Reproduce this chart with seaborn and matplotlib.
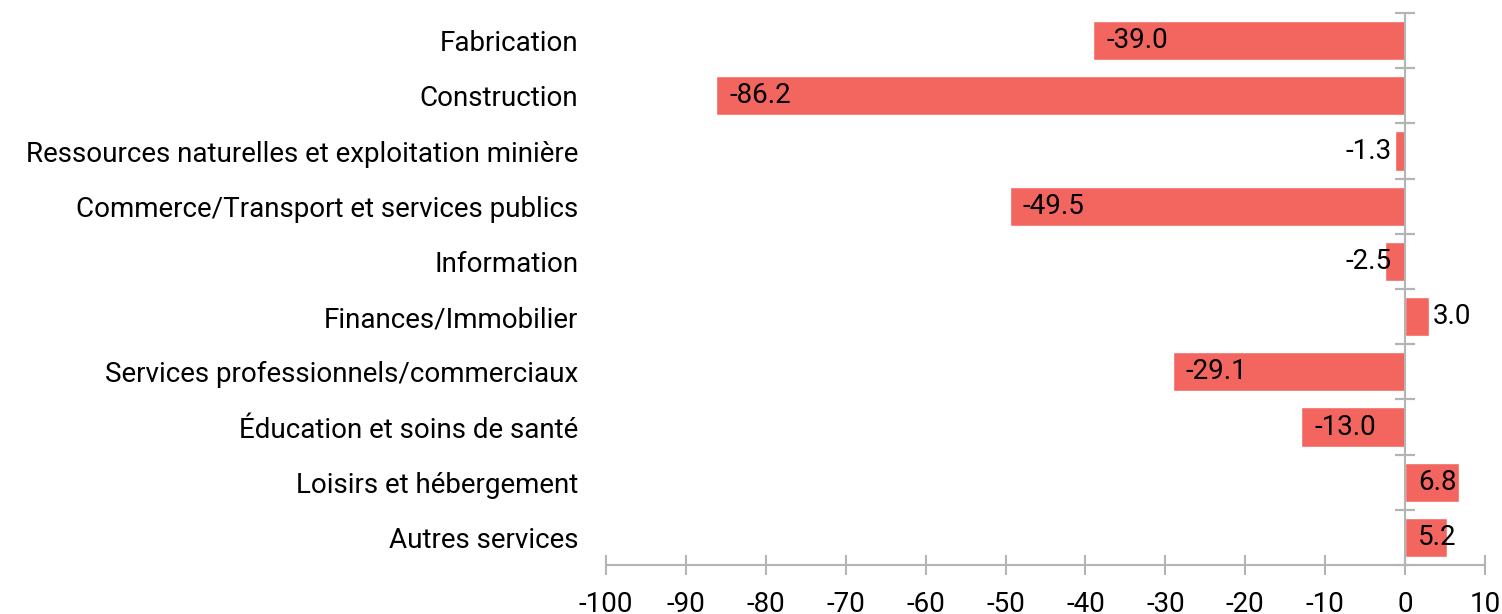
import matplotlib
matplotlib.use("Agg")
import matplotlib.pyplot as plt
import seaborn as sns
import pandas as pd
import numpy as np

# Data
sectors = [
    "Fabrication",
    "Construction",
    "Ressources naturelles et exploitation minière",
    "Commerce/Transport et services publics",
    "Information",
    "Finances/Immobilier",
    "Services professionnels/commerciaux",
    "Éducation et soins de santé",
    "Loisirs et hébergement",
    "Autres services",
]
changes = [-39.0, -86.2, -1.3, -49.5, -2.5, 3.0, -29.1, -13.0, 6.8, 5.2]
x_ticks = list(range(-100, 11, 10))

df = pd.DataFrame({"sector": sectors, "change": changes})

sns.set_style("white")
plt.rcParams["font.family"] = ["Roboto", "DejaVu Sans"]

bar_color = "#F3655F"
axis_gray = "#B4B4B4"
fs = 20

fig = plt.figure(figsize=(15.02, 6.14), dpi=100)
ax = fig.add_axes([0.4035, 0.0798, 0.9887 - 0.4035, 0.9788 - 0.0798])

sns.barplot(data=df, y="sector", x="change", color=bar_color, saturation=1,
            width=0.71, orient="h", ax=ax)

ax.set_xlim(-100, 10)
ax.set_xticks(x_ticks)
ax.set_xticklabels([str(t) for t in x_ticks], fontsize=fs, color="black")
ax.set_xlabel("")
ax.set_ylabel("")
ax.tick_params(axis="x", bottom=True, direction="inout", length=14, width=1.5,
               color=axis_gray, pad=12)
ax.tick_params(axis="y", length=0, labelsize=fs, labelcolor="black", pad=20)

for side in ["top", "right", "left"]:
    ax.spines[side].set_visible(False)
ax.spines["bottom"].set_color(axis_gray)
ax.spines["bottom"].set_linewidth(1.5)

# vertical zero line with ticks between categories
ax.axvline(0, color=axis_gray, lw=1.5, zorder=3)
frac0 = (0 - (-100)) / 110
sec = ax.secondary_yaxis(frac0)
sec.set_yticks(np.arange(-0.5, len(sectors), 1.0))
sec.set_yticklabels([])
sec.tick_params(direction="inout", length=14, width=1.5, color=axis_gray,
                left=True, right=True)
for side in ["left", "right", "top", "bottom"]:
    sec.spines[side].set_visible(False)

# value labels
for i, v in enumerate(changes):
    if v < 0 and v > -8:
        ax.text(-1.7, i, f"{v:.1f}", ha="right", va="center", fontsize=fs,
                color="black")
    else:
        if v < 0:
            xpos = v + 1.6
        else:
            xpos = v + 0.4 if v < 4 else 1.6
        ax.text(xpos, i, f"{v:.1f}", ha="left", va="center", fontsize=fs,
                color="black")

fig.savefig("out.png", dpi=100)
